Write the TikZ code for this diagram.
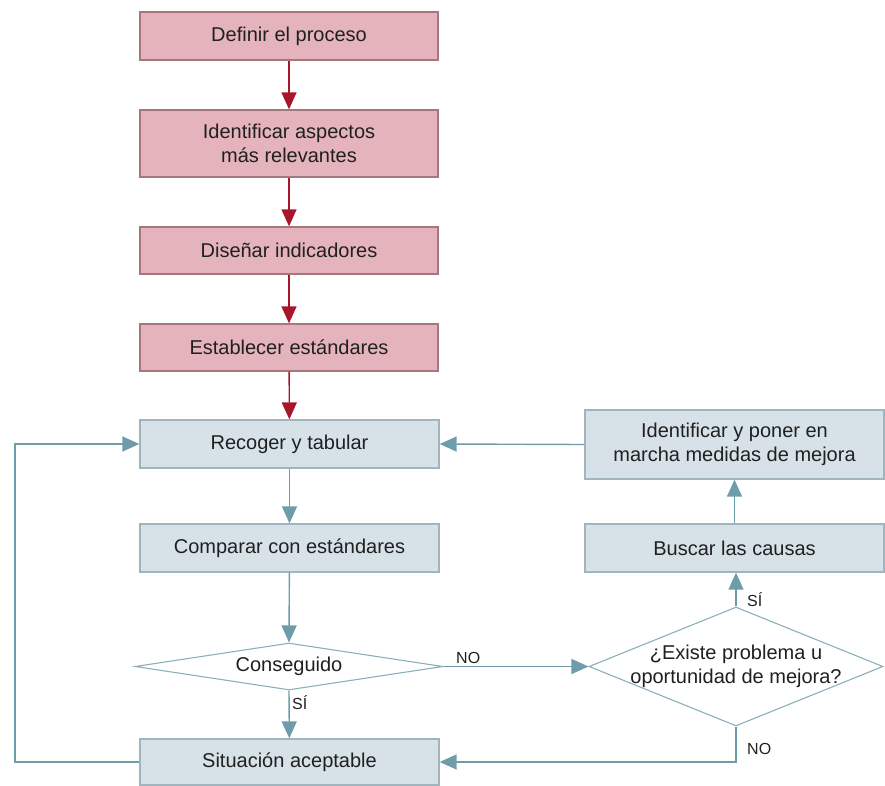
\documentclass[tikz,border=0pt]{standalone}
\usepackage{fontspec}
\setmainfont{Liberation Sans}
\usetikzlibrary{arrows.meta,shapes.geometric}
\definecolor{pinkfill}{RGB}{228,179,188}
\definecolor{pinkedge}{RGB}{165,120,126}
\definecolor{redline}{RGB}{168,22,44}
\definecolor{bluefill}{RGB}{214,226,231}
\definecolor{blueedge}{RGB}{160,181,189}
\definecolor{blueline}{RGB}{110,156,170}
\definecolor{ink}{RGB}{32,32,32}
\tikzset{
  every node/.style={text=ink, font=\fontsize{20}{23.5}\selectfont},
  redbox/.style={draw=pinkedge, fill=pinkfill, line width=1.3pt,
    minimum width=298pt, inner sep=0pt, align=center},
  bluebox/.style={draw=blueedge, fill=bluefill, line width=1.3pt,
    minimum width=299pt, inner sep=0pt, align=center},
  decision/.style={diamond, draw=blueline!80, fill=white, line width=1.1pt,
    inner sep=0pt},
  redarrow/.style={draw=redline, line width=1.4pt,
    -{Triangle[length=17pt,width=15pt]}},
  bluearrow/.style={draw=blueline, line width=1.4pt,
    -{Triangle[length=17pt,width=15pt]}},
  tag/.style={font=\fontsize{16}{19}\selectfont, inner sep=0pt},
}
\begin{document}
\begin{tikzpicture}[x=1pt, y=-1pt]
\useasboundingbox (0,0) rectangle (885,786);

% preparation steps
\node[redbox, minimum height=48pt] (d1) at (289,36) {Definir el proceso};
\node[redbox, minimum height=67pt] (d2) at (289,143.5) {Identificar aspectos\\más relevantes};
\node[redbox, minimum height=47pt] (d3) at (289,250.5) {Diseñar indicadores};
\node[redbox, minimum height=47pt] (d4) at (289,347.5) {Establecer estándares};

% control loop
\node[bluebox, minimum height=48pt] (rec) at (289.5,444) {Recoger y tabular};
\node[bluebox, minimum height=48pt] (comp) at (289.5,548) {Comparar con estándares};
\node[decision, minimum width=308pt, minimum height=47pt] (cons) at (289,666.5) {};
\node at (cons.center) (consT) {Conseguido};
\node[bluebox, minimum height=46pt] (sit) at (289.5,762) {Situación aceptable};

% improvement branch
\node[bluebox, minimum height=69pt] (ident) at (734.5,444.5) {Identificar y poner en\\marcha medidas de mejora};
\node[bluebox, minimum height=48pt] (busc) at (734.5,548) {Buscar las causas};
\node[decision, minimum width=294pt, minimum height=119pt] (q) at (736,666.5) {};
\node[align=center] at (q.center) (qT) {¿Existe problema u\\oportunidad de mejora?};

% helper points
\coordinate (loopB) at (15,762);
\coordinate (loopT) at (15,444);
\coordinate (qdown) at (q.south |- sit.east);

% connectors
\draw[redarrow] (d1) -- (d2);
\draw[redarrow] (d2) -- (d3);
\draw[redarrow] (d3) -- (d4);
\draw[redarrow] (d4) -- (rec);

\draw[bluearrow] (rec) -- (comp);
\draw[bluearrow] (comp) -- (cons.north);
\draw[bluearrow] (cons.south) -- (sit);
\draw[bluearrow] (sit.west) -- (loopB) -- (loopT) -- (rec.west);
\draw[bluearrow] (cons.east) -- (q.west);
\draw[bluearrow] (q.north) -- (busc.south -| q.north);
\draw[bluearrow] (busc) -- (ident);
\draw[bluearrow] (ident.west) -- (rec.east);
\draw[bluearrow] (q.south) -- (qdown) -- (sit.east);

% branch labels
\node[tag, anchor=south west] at (456,664) {NO};
\node[tag, anchor=west] at (292,703) {SÍ};
\node[tag, anchor=west] at (747,600) {SÍ};
\node[tag, anchor=west] at (747,749) {NO};
\end{tikzpicture}
\end{document}
